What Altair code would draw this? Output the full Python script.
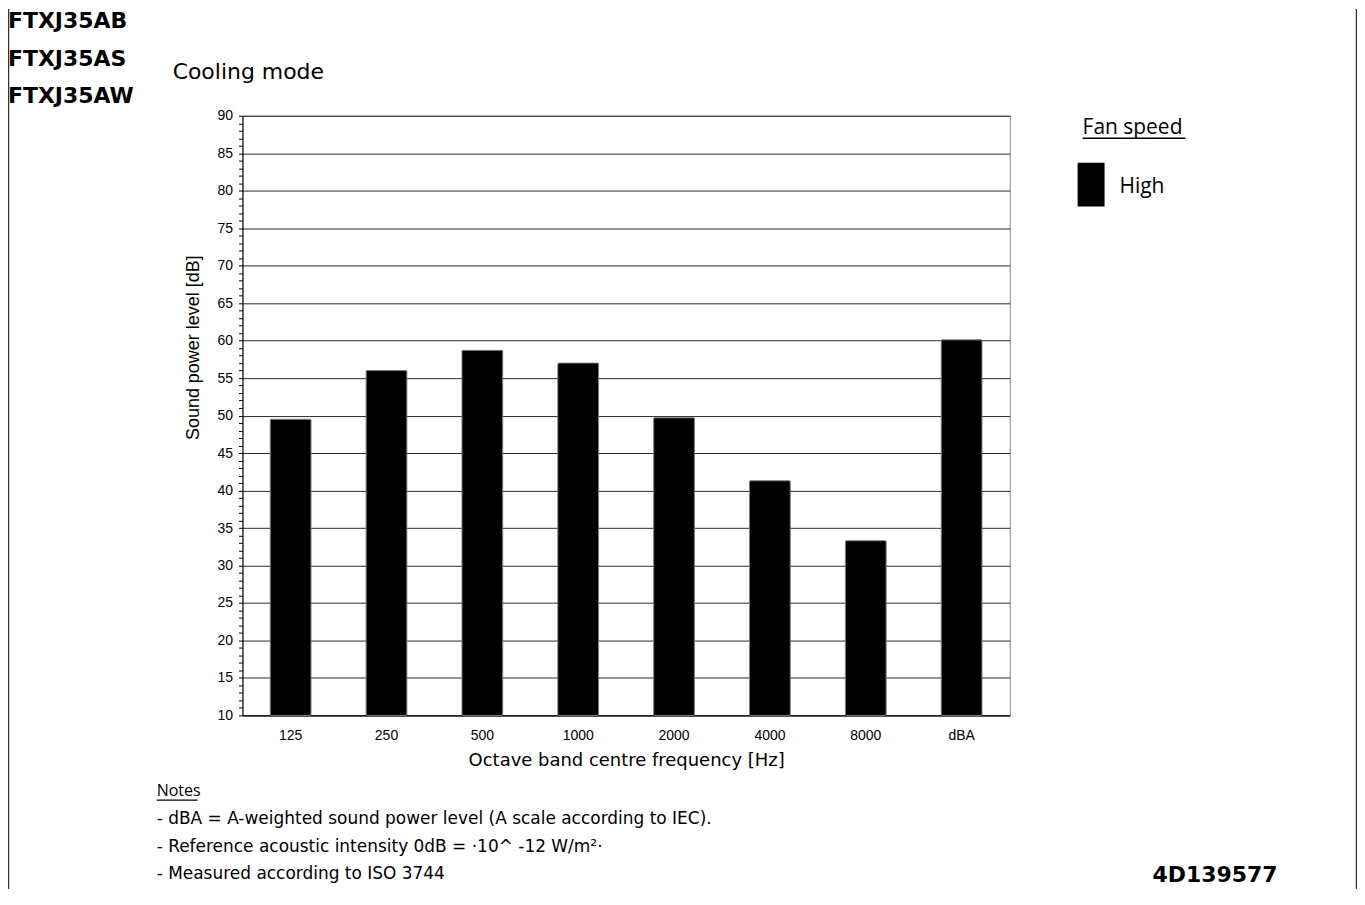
import altair as alt
import pandas as pd

# ---- data ----
categories = ["125", "250", "500", "1000", "2000", "4000", "8000", "dBA"]
levels = [49.5, 56.0, 58.7, 57.0, 49.7, 41.3, 33.3, 60.1]
y_ticks = list(range(10, 91))

title_lines = ["FTXJ35AB", "FTXJ35AS", "FTXJ35AW"]
subtitle = "Cooling mode"
legend_title = "Fan speed"
legend_label = "High"
notes_heading = "Notes"
notes_lines = [
    "- dBA = A-weighted sound power level (A scale according to IEC).",
    "- Reference acoustic intensity 0dB = \u00b710^ -12 W/m\u00b2\u00b7",
    "- Measured according to ISO 3744",
]
doc_code = "4D139577"

W, H = 769, 601

df = pd.DataFrame({"band": categories, "level": levels})

bars = alt.Chart(df).mark_bar(
    color="black", stroke="#7a7a7a", strokeWidth=1, cornerRadius=1
).encode(
    x=alt.X(
        "band:N",
        sort=categories,
        scale=alt.Scale(paddingInner=0.575, paddingOuter=0.29),
        axis=alt.Axis(
            title="Octave band centre frequency [Hz]",
            labelAngle=0,
            ticks=False,
            domainColor="black",
            domainWidth=1,
            labelFont="Liberation Sans",
            labelFontSize=14,
            labelColor="black",
            labelPadding=13,
            titleFont="DejaVu Sans",
            titleFontSize=18,
            titleFontWeight="normal",
            titleColor="black",
            titlePadding=9,
        ),
    ),
    y=alt.Y(
        "level:Q",
        scale=alt.Scale(domain=[10, 90], nice=False, zero=False),
        axis=alt.Axis(
            values=y_ticks,
            labelExpr="datum.value % 5 === 0 ? datum.label : ''",
            labelOverlap=False,
            labelFlush=False,
            grid=True,
            gridColor="#2a2a2a",
            gridWidth=1,
            gridOpacity={"condition": {"test": "datum.value % 5 === 0", "value": 1}, "value": 0},
            tickSize=4,
            tickColor="black",
            domainColor="black",
            labelFont="Liberation Sans",
            labelFontSize=14,
            labelColor="black",
            labelPadding=6,
            title="Sound power level [dB]",
            titleFont="Liberation Sans",
            titleFontSize=18,
            titleFontWeight="normal",
            titleColor="black",
            titleX=-49,
            titleY=232,
            titleAngle=270,
            titleAlign="center",
            titleBaseline="middle",
        ),
    ),
    y2=alt.datum(10),
)


def label(s, x, y, **kw):
    style = dict(align="left", baseline="alphabetic", color="black")
    style.update(kw)
    return alt.Chart(pd.DataFrame({"t": [s]})).mark_text(**style).encode(
        x=alt.value(x), y=alt.value(y), text="t:N"
    )


def hrule(x1, x2, y, width=1.5, color="black"):
    return alt.Chart(pd.DataFrame({"a": [0]})).mark_rule(color=color, strokeWidth=width).encode(
        x=alt.value(x1), x2=alt.value(x2), y=alt.value(y)
    )


def vrule(x, y1, y2, width=1.5, color="#333333"):
    return alt.Chart(pd.DataFrame({"a": [0]})).mark_rule(color=color, strokeWidth=width).encode(
        x=alt.value(x), y=alt.value(y1), y2=alt.value(y2)
    )


layers = [bars]

# model titles
for s, yb in zip(title_lines, [-88, -50, -13]):
    layers.append(label(s, -235, yb, font="DejaVu Sans", fontWeight="bold", fontSize=22))

layers.append(label(subtitle, -70, -37, font="DejaVu Sans", fontSize=22))

# legend
layers.append(label(legend_title, 842, 18, font="Open Sans", fontSize=21))
layers.append(hrule(842, 945, 22.5))
layers.append(
    alt.Chart(pd.DataFrame({"a": [0]})).mark_rect(color="black").encode(
        x=alt.value(837), x2=alt.value(864), y=alt.value(47), y2=alt.value(91)
    )
)
layers.append(label(legend_label, 879, 77, font="Open Sans", fontSize=21))

# notes
layers.append(label(notes_heading, -86, 682, font="Open Sans", fontSize=16))
layers.append(hrule(-86, -45, 686, width=1.2))
for s, yb in zip(notes_lines, [709.5, 737.5, 765]):
    layers.append(label(s, -86, yb, font="DejaVu Sans", fontSize=17))

layers.append(label(doc_code, 912, 768, font="DejaVu Sans", fontWeight="bold", fontSize=22))

# page frame lines
layers.append(vrule(-234.5, -107, 775))
layers.append(vrule(1116.5, -107, 775))

chart = alt.layer(*layers).properties(
    width=W,
    height=H,
    padding={"left": 235, "top": 107, "right": 348, "bottom": 174},
    autosize="none",
    background="white",
).configure_view(stroke="#8a8a8a", strokeWidth=1)

chart.save("out.html", embed_options={"renderer": "svg", "actions": False})
